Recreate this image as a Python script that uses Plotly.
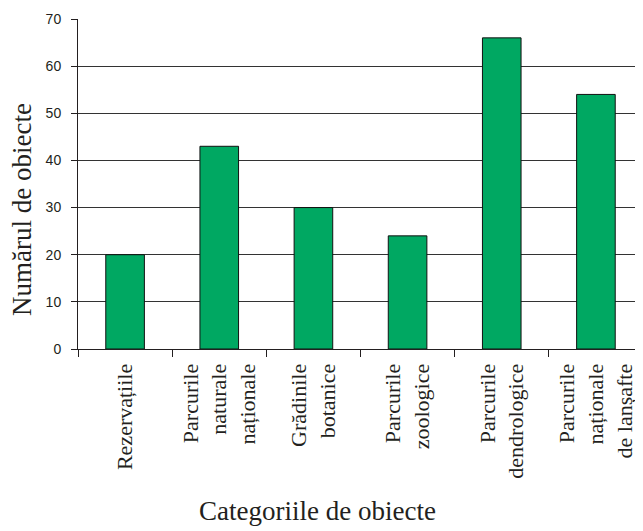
import plotly.graph_objects as go

categories = [
    "Rezervațiile",
    "Parcurile<br>naturale<br>naționale",
    "Grădinile<br>botanice",
    "Parcurile<br>zoologice",
    "Parcurile<br>dendrologice",
    "Parcurile<br>naționale<br>de lanșafte",
]
values = [20, 43, 30, 24, 66, 54]
y_ticks = [0, 10, 20, 30, 40, 50, 60, 70]
y_title = "Numărul de obiecte"
x_title = "Categoriile de obiecte"

OFF = 8  # page body margin
W, H = 643 - OFF, 531 - OFF
ML, MR, MT, MB = 78 - OFF, 0, 19 - OFF, 531 - 349
PW, PH = W - ML - MR, H - MT - MB

SERIF = "Liberation Serif"
SANS = "Liberation Sans"

fig = go.Figure()
fig.add_trace(go.Bar(
    x=categories, y=values,
    marker=dict(color="#00a862", line=dict(color="#111111", width=1)),
    width=0.41,
))

fig.update_layout(
    width=W, height=H,
    margin=dict(l=ML, r=MR, t=MT, b=MB, pad=0),
    plot_bgcolor="white", paper_bgcolor="white",
    showlegend=False,
    font=dict(family=SERIF, color="#231f20"),
    bargap=0.59,
)

fig.update_xaxes(
    type="category",
    tickangle=-90,
    tickson="boundaries",
    ticks="outside", ticklen=7, tickcolor="#231f20", tickwidth=1,
    showline=True, linecolor="#231f20", linewidth=1,
    showgrid=False,
    tickfont=dict(family=SERIF, size=22, color="#231f20"),
    ticklabelstandoff=5,
)

fig.update_yaxes(
    range=[0, 70],
    tickvals=y_ticks,
    ticks="outside", ticklen=6, tickcolor="#231f20", tickwidth=1,
    showline=True, linecolor="#231f20", linewidth=1,
    showgrid=True, gridcolor="#333333", gridwidth=1,
    zeroline=False,
    tickfont=dict(family=SANS, size=14, color="#231f20"),
    ticklabelstandoff=7,
)

fig.add_annotation(
    text=y_title, textangle=-90,
    xref="paper", yref="paper",
    x=-(ML - (22 - OFF)) / PW, y=1 - ((210 - OFF) - MT) / PH,
    xanchor="center", yanchor="middle", showarrow=False,
    font=dict(family=SERIF, size=27, color="#231f20"),
)
fig.add_annotation(
    text=x_title,
    xref="paper", yref="paper",
    x=((317 - OFF) - ML) / PW, y=-((511 - OFF) - (H - MB)) / PH,
    xanchor="center", yanchor="middle", showarrow=False,
    font=dict(family=SERIF, size=27, color="#231f20"),
)

fig.write_html("out.html")
